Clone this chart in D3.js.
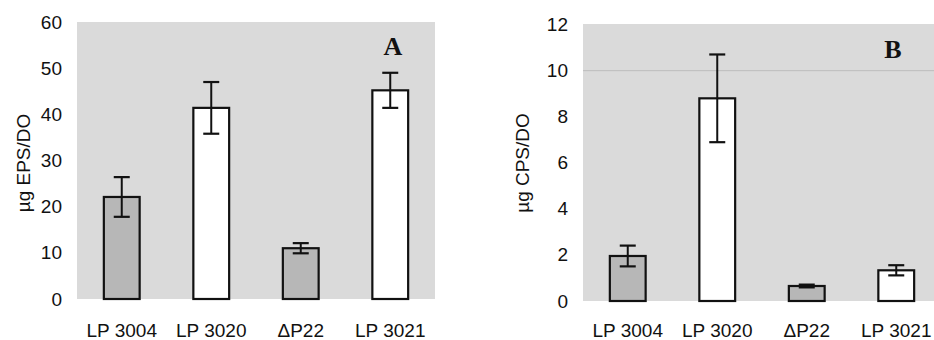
<!DOCTYPE html>
<html>
<head>
<meta charset="utf-8">
<script src="https://cdn.jsdelivr.net/npm/d3@7"></script>
<style>
  body { margin: 0; background: #fff; }
  text { font-family: "Liberation Sans", Arial, sans-serif; fill: #111; }
</style>
</head>
<body>
<div id="chart"></div>
<script>
// strains on the x axis (same for both panels)
var strains = ['LP 3004', 'LP 3020', '\u0394P22', 'LP 3021']
var shaded = [true, false, true, false]

// panel A: EPS
var epsMean = [22.1, 41.4, 11.0, 45.2]
var epsErr = [4.3, 5.6, 1.1, 3.8]
var epsTicks = [0, 10, 20, 30, 40, 50, 60]

// panel B: CPS
var cpsMean = [1.95, 8.78, 0.65, 1.33]
var cpsErr = [0.45, 1.9, 0.06, 0.22]
var cpsTicks = [0, 2, 4, 6, 8, 10, 12]

var svg = d3.select('#chart')
  .append('svg')
  .attr('width', 934)
  .attr('height', 340)

var bgColor = '#dadada'
var barGray = '#b7b7b7'

function drawPanel(opts) {
  var g = svg.append('g')

  var x = d3.scaleBand()
    .domain(strains)
    .range([opts.left, opts.left + 358])
    .paddingInner(0.6)
    .paddingOuter(0.3)

  var y = d3.scaleLinear()
    .domain([0, opts.max])
    .range([opts.bottom, opts.top])

  // grey plot area
  g.append('rect')
    .attr('x', opts.left)
    .attr('y', opts.top)
    .attr('width', Math.min(358, 934 - opts.left))
    .attr('height', opts.bottom - opts.top)
    .style('fill', bgColor)

  // faint gridlines
  g.selectAll('.grid')
    .data(opts.grid)
    .enter()
    .append('line')
    .attr('x1', opts.left)
    .attr('x2', Math.min(opts.left + 358, 934))
    .attr('y1', d => y(d) + 0.5)
    .attr('y2', d => y(d) + 0.5)
    .style('stroke', '#bdbdbd')
    .style('stroke-width', 1)

  // y axis, labels only
  var yAxis = g.append('g')
    .attr('transform', 'translate(' + opts.left + ',0)')
    .call(d3.axisLeft(y).tickValues(opts.ticks).tickSize(0).tickPadding(15))
  yAxis.select('.domain').remove()
  yAxis.selectAll('text')
    .style('font-size', '19px')
    .style('font-family', '"Liberation Sans", Arial, sans-serif')
    .style('fill', '#111')

  // y axis title
  g.append('text')
    .attr('transform', 'translate(' + opts.titleX + ',' + 163 + ') rotate(-90)')
    .attr('text-anchor', 'middle')
    .attr('dominant-baseline', 'central')
    .style('font-size', '19px')
    .text(opts.title)

  // bars
  g.selectAll('.bar')
    .data(opts.mean)
    .enter()
    .append('rect')
    .attr('x', (d, i) => x(strains[i]))
    .attr('y', d => y(d))
    .attr('width', x.bandwidth())
    .attr('height', d => y(0) - y(d))
    .style('fill', (d, i) => shaded[i] ? barGray : '#fff')
    .style('stroke', '#111')
    .style('stroke-width', 2.2)

  // error bars
  var cap = 8
  opts.mean.forEach(function (m, i) {
    var cx = x(strains[i]) + x.bandwidth() / 2
    var e = opts.err[i]
    g.append('line')
      .attr('x1', cx).attr('x2', cx)
      .attr('y1', y(m + e)).attr('y2', y(m - e))
      .style('stroke', '#111').style('stroke-width', 2)
    ;[m + e, m - e].forEach(function (v) {
      g.append('line')
        .attr('x1', cx - cap).attr('x2', cx + cap)
        .attr('y1', y(v)).attr('y2', y(v))
        .style('stroke', '#111').style('stroke-width', 2.2)
    })
  })

  // category labels
  g.selectAll('.cat')
    .data(strains)
    .enter()
    .append('text')
    .attr('x', d => x(d) + x.bandwidth() / 2)
    .attr('y', 337)
    .attr('text-anchor', 'middle')
    .style('font-size', '19px')
    .text(d => d)

  // panel letter
  g.append('text')
    .attr('x', opts.letterX)
    .attr('y', opts.letterY)
    .attr('text-anchor', 'middle')
    .style('font-family', '"Liberation Serif", "Times New Roman", serif')
    .style('font-weight', 'bold')
    .style('font-size', '26px')
    .text(opts.letter)
}

drawPanel({
  left: 77, top: 22, bottom: 299, max: 60,
  ticks: epsTicks, grid: [], mean: epsMean, err: epsErr,
  title: '\u00b5g EPS/DO', titleX: 23,
  letter: 'A', letterX: 393, letterY: 55
})

drawPanel({
  left: 583, top: 24, bottom: 301, max: 12,
  ticks: cpsTicks, grid: [10], mean: cpsMean, err: cpsErr,
  title: '\u00b5g CPS/DO', titleX: 522,
  letter: 'B', letterX: 893, letterY: 58
})
</script>
</body>
</html>
